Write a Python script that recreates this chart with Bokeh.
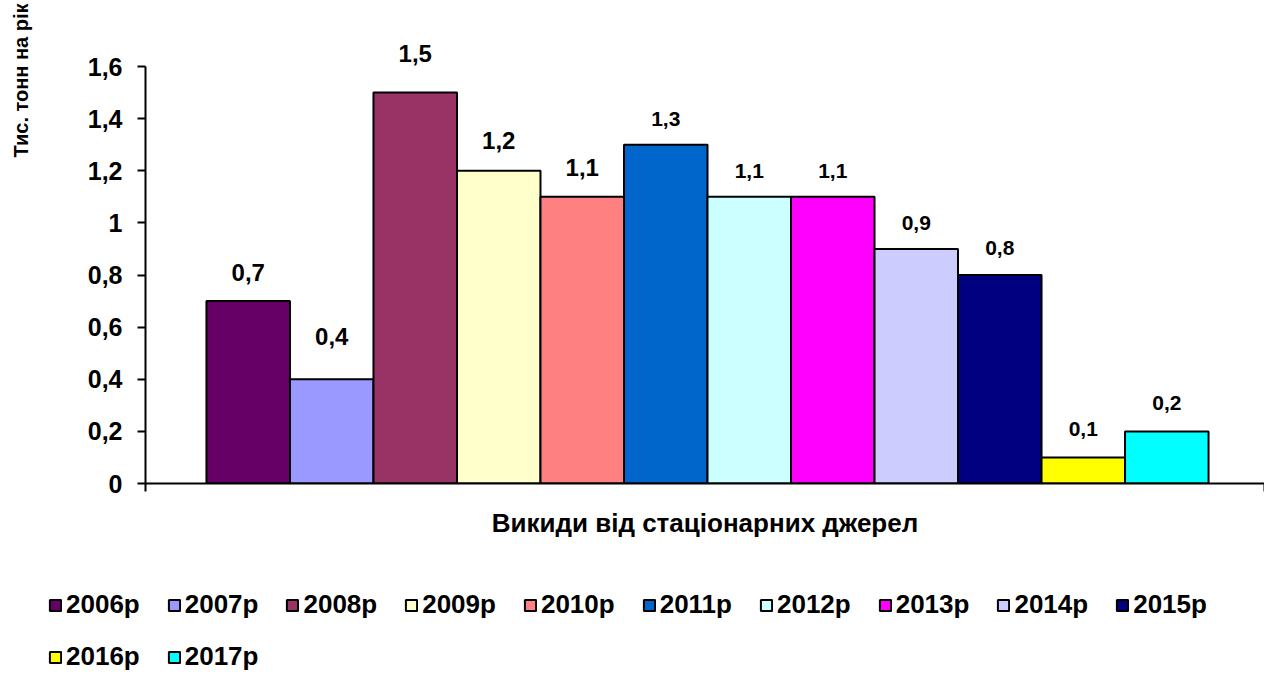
import numpy as np
from bokeh.plotting import figure
from bokeh.layouts import column, row
from bokeh.models import (ColumnDataSource, Range1d, FixedTicker, CustomJSTickFormatter,
                          Legend, LegendItem)
from bokeh.core.properties import value
from bokeh.embed import file_html
from bokeh.resources import INLINE

# ---- data ----
years = ["2006р", "2007р", "2008р", "2009р", "2010р", "2011р",
         "2012р", "2013р", "2014р", "2015р", "2016р", "2017р"]
emissions = [0.7, 0.4, 1.5, 1.2, 1.1, 1.3, 1.1, 1.1, 0.9, 0.8, 0.1, 0.2]
y_ticks = [0, 0.2, 0.4, 0.6, 0.8, 1.0, 1.2, 1.4, 1.6]
category = "Викиди від стаціонарних джерел"
y_title = "Тис. тонн на рік"

# ---- styles ----
colors = ["#660066", "#9999FF", "#993366", "#FFFFCC", "#FF8080", "#0066CC",
          "#CCFFFF", "#FF00FF", "#CCCCFF", "#000080", "#FFFF00", "#00FFFF"]
label_sizes = ["24px"] * 5 + ["21px"] * 7
label_gaps = [29, 43, 39, 30, 29, 26, 26, 26, 26, 27, 28, 28]
FONT = "Liberation Sans"

W = 1264
W_TITLE = 40
H_MAIN = 544
H_LEG = 128
PAD_L, PAD_R = 0.73, 0.67
Y_TOP = 1.8533

x = np.arange(len(years))
x_lo = -0.5 - PAD_L
x_hi = len(years) - 0.5 + PAD_R

src = ColumnDataSource(dict(
    x=x, top=emissions, year=years, color=colors,
    label=[f"{v:.1f}".replace(".", ",") for v in emissions],
    size=label_sizes, gap=[-g for g in label_gaps],
))


def bare(fig):
    fig.frame_align = False
    fig.outline_line_color = None
    fig.xgrid.visible = False
    fig.ygrid.visible = False
    return fig


# ---- y title strip ----
pt = bare(figure(width=W_TITLE, height=H_MAIN, output_backend="svg",
                 toolbar_location=None, title=None,
                 x_axis_location=None, y_axis_location=None,
                 x_range=Range1d(0, 1), y_range=Range1d(0, 1), min_border=0))
pt.text(x=[0.5], y=[1.0], text=[y_title], y_offset=3, angle=90, angle_units="deg",
        text_align="right", text_baseline="middle",
        text_font=value(FONT), text_font_style="bold",
        text_font_size="20px", text_color="black")

# ---- main chart ----
p = bare(figure(width=W - W_TITLE, height=H_MAIN, output_backend="svg",
                toolbar_location=None, title=None,
                x_range=Range1d(x_lo, x_hi), y_range=Range1d(0, Y_TOP),
                min_border_left=145 - W_TITLE, min_border_right=0,
                min_border_top=0, min_border_bottom=H_MAIN - 483))

bars = p.vbar(x="x", top="top", bottom=0, width=1.0, source=src,
              fill_color="color", line_color="black", line_width=2)

p.text(x="x", y="top", text="label", source=src, y_offset="gap",
       text_align="center", text_baseline="alphabetic",
       text_font=value(FONT), text_font_style="bold",
       text_font_size="size", text_color="black")

# y axis
ya = p.yaxis[0]
ya.ticker = FixedTicker(ticks=y_ticks)
ya.bounds = (0, 1.6)
ya.formatter = CustomJSTickFormatter(
    code="return (Math.round(tick*10)/10).toString().replace('.', ',');")
ya.major_label_text_font = FONT
ya.major_label_text_font_style = "bold"
ya.major_label_text_font_size = "25px"
ya.major_label_text_color = "black"
ya.major_label_standoff = 15
ya.axis_line_width = 2
ya.axis_line_color = "black"
ya.major_tick_line_width = 2
ya.major_tick_line_color = "black"
ya.major_tick_out = 8
ya.major_tick_in = 0
ya.minor_tick_out = 0
ya.minor_tick_in = 0

# x axis
xa = p.xaxis[0]
xa.ticker = FixedTicker(ticks=[x_lo, x_hi])
xa.formatter = CustomJSTickFormatter(code="return '';")
xa.major_label_text_font_size = "1px"
xa.major_label_standoff = 0
xa.axis_line_width = 2
xa.axis_line_color = "black"
xa.major_tick_line_width = 2
xa.major_tick_line_color = "black"
xa.major_tick_out = 8
xa.major_tick_in = 0
xa.minor_tick_out = 0
xa.minor_tick_in = 0
xa.axis_label = category
xa.axis_label_text_font = FONT
xa.axis_label_text_font_style = "bold"
xa.axis_label_text_font_size = "26px"
xa.axis_label_text_color = "black"
xa.axis_label_standoff = 16

# ---- legend figure ----
# the legend's own copy of the bars is tucked beneath the opaque legend box
pl = bare(figure(width=W, height=H_LEG, output_backend="svg", toolbar_location=None,
                 title=None, x_axis_location=None, y_axis_location=None,
                 x_range=Range1d(-600.5, 663.5), y_range=Range1d(-15, 17),
                 min_border=0))
leg_bars = pl.vbar(x="x", top="top", bottom=0, width=1.0, source=src,
                   fill_color="color", line_color="black", line_width=2)

items = [LegendItem(label=years[i], renderers=[leg_bars], index=i) for i in range(len(years))]


def make_legend(its, loc):
    return Legend(items=its, orientation="horizontal", location=loc,
                  glyph_width=14, glyph_height=14, label_standoff=4, spacing=27,
                  padding=0, margin=0, border_line_color=None,
                  background_fill_color="white", background_fill_alpha=1.0,
                  label_text_font=FONT, label_text_font_style="bold",
                  label_text_font_size="26px", label_text_color="black")


pl.add_layout(make_legend(items[:10], (48, 52)))
pl.add_layout(make_legend(items[10:], (48, 0)))

layout = column(row(pt, p, spacing=0), pl, spacing=0)
open("out.html", "w").write(file_html(layout, INLINE))
